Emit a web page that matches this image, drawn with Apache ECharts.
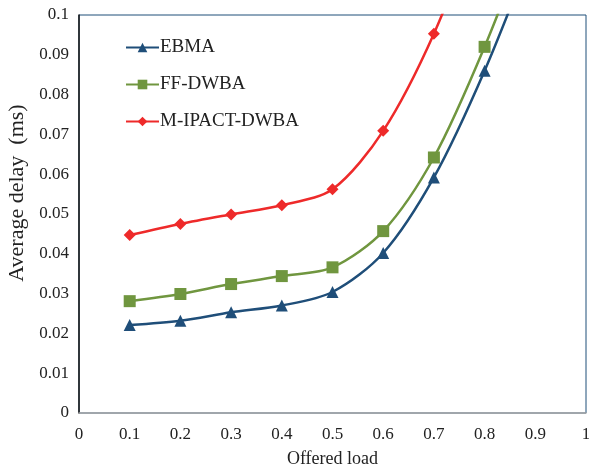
<!DOCTYPE html>
<html>
<head>
<meta charset="utf-8">
<script src="https://cdn.jsdelivr.net/npm/echarts@6/dist/echarts.min.js"></script>
<style>
  html, body { margin: 0; padding: 0; background: #fff; }
  #main { width: 589px; height: 470px; }
</style>
</head>
<body>
<div id="main"></div>
<script>
// offered load
var loads = [0.1, 0.2, 0.3, 0.4, 0.5, 0.6, 0.7, 0.8, 0.9];
// average delay (ms), last points run off the top of the chart
var ebma = [0.0221, 0.0232, 0.0253, 0.0270, 0.0304, 0.0402, 0.0592, 0.0860, 0.118];
var ffDwba = [0.0281, 0.0299, 0.0324, 0.0344, 0.0366, 0.0457, 0.0642, 0.0920, 0.125];
var mIpact = [0.0447, 0.0475, 0.0499, 0.0522, 0.0562, 0.0709, 0.0953, 0.128];

var seriesNames = ['EBMA', 'FF-DWBA', 'M-IPACT-DWBA'];
var seriesColors = ['#1f4e79', '#70963f', '#ee2a2a'];
var seriesSymbols = ['triangle', 'rect', 'diamond'];
var seriesSizes = [12, 12, 12];
var seriesValues = [ebma, ffDwba, mIpact];

var FONT = 'Liberation Serif';

function pairs(vals) {
  var out = [];
  for (var i = 0; i < vals.length; i++) {
    out.push([loads[i], vals[i]]);
  }
  return out;
}

var series = [];
for (var i = 0; i < seriesNames.length; i++) {
  series.push({
    name: seriesNames[i],
    type: 'line',
    data: pairs(seriesValues[i]),
    smooth: 0.3,
    clip: true,
    symbol: seriesSymbols[i],
    symbolSize: seriesSizes[i],
    showAllSymbol: true,
    lineStyle: { color: seriesColors[i], width: 2.5 },
    itemStyle: { color: seriesColors[i] }
  });
}

var chart = echarts.init(document.getElementById('main'));
chart.setOption({
  animation: false,
  backgroundColor: '#fff',
  grid: {
    left: 79, right: 3, top: 15, bottom: 57,
    outerBoundsMode: 'none',
    containLabel: false,
    show: true,
    borderColor: '#1f4e79',
    borderWidth: 1
  },
  legend: {
    orient: 'vertical',
    left: 120,
    top: 33,
    itemGap: 18,
    itemWidth: 33,
    itemHeight: 12,
    textStyle: { fontFamily: FONT, fontSize: 19, color: '#222', padding: [0, 0, 0, -4] },
    data: seriesNames
  },
  xAxis: {
    type: 'value',
    min: 0, max: 1, interval: 0.1,
    name: 'Offered load',
    nameLocation: 'middle',
    nameGap: 37,
    nameTextStyle: { fontFamily: FONT, fontSize: 18, color: '#222' },
    axisLine: { show: true, lineStyle: { color: '#a6a6a6', width: 1.5 } },
    axisTick: { show: false },
    splitLine: { show: false },
    axisLabel: { fontFamily: FONT, fontSize: 17, color: '#222', margin: 13 }
  },
  yAxis: {
    type: 'value',
    min: 0, max: 0.1, interval: 0.01,
    name: 'Average delay  (ms)',
    nameLocation: 'middle',
    nameGap: 48,
    nameTextStyle: { fontFamily: FONT, fontSize: 22, color: '#222', padding: [0, 0, 0, 42] },
    axisLine: { show: true, lineStyle: { color: '#111', width: 1.5 } },
    axisTick: { show: false },
    splitLine: { show: false },
    axisLabel: { fontFamily: FONT, fontSize: 17, color: '#222', margin: 10 }
  },
  series: series
});
</script>
</body>
</html>
